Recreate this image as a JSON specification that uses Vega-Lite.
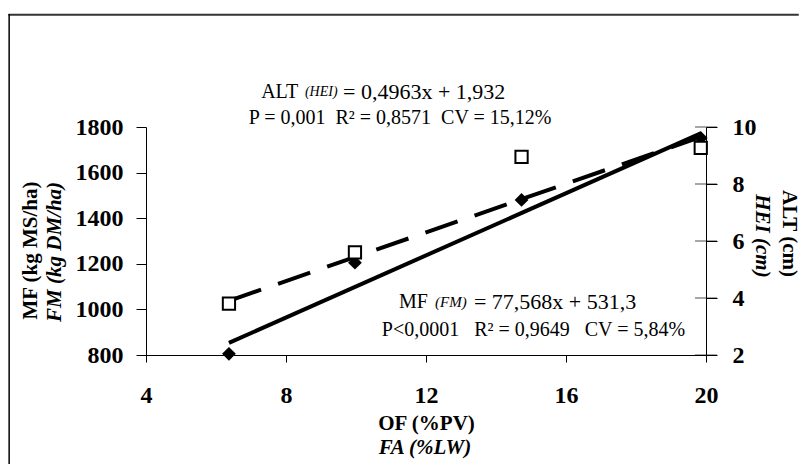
{
  "$schema": "https://vega.github.io/schema/vega-lite/v6.json",
  "width": 560,
  "height": 228,
  "autosize": {"type": "none"},
  "padding": {"left": 146, "top": 127, "right": 94, "bottom": 111},
  "background": "white",
  "data": {"values": [{"note": "annotation"}]},
  "config": {
    "view": {"stroke": null},
    "font": "Liberation Serif",
    "text": {"font": "Liberation Serif", "color": "black"},
    "axis": {
      "grid": false,
      "domainColor": "black",
      "tickColor": "black",
      "labelColor": "black",
      "titleColor": "black",
      "labelFont": "Liberation Serif",
      "titleFont": "Liberation Serif",
      "labelFontWeight": "bold",
      "titleFontWeight": "bold",
      "labelFontSize": 24,
      "titleFontSize": 21,
      "domainWidth": 1,
      "tickWidth": 1,
      "labelFlush": false,
      "labelOverlap": false
    }
  },
  "datasets": {
    "pts": [
      {"of": 6.37, "mf": 805, "alt": 3.8},
      {"of": 9.97, "mf": 1205, "alt": 5.6},
      {"of": 14.73, "mf": 1480, "alt": 8.95},
      {"of": 19.85, "mf": 1752, "alt": 9.27}
    ],
    "mfLine": [{"of": 6.37, "mf": 853}, {"of": 19.85, "mf": 1772}],
    "altLine": [{"of": 6.37, "alt": 3.9}, {"of": 19.85, "alt": 9.65}],
    "altTicks": [{"alt": 2}, {"alt": 4}, {"alt": 6}, {"alt": 8}, {"alt": 10}]
  },
  "layer": [
    {
      "layer": [
        {
          "data": {"name": "mfLine"},
          "mark": {"type": "line", "color": "black", "strokeWidth": 4},
          "encoding": {
            "x": {"field": "of", "type": "quantitative", "scale": {"domain": [4, 20], "nice": false, "zero": false},
              "axis": {"orient": "bottom", "values": [4, 8, 12, 16, 20], "format": "d", "tickSize": 7, "labelPadding": 21, "title": "OF (%PV)", "titleX": 280, "titleY": 68, "titleBaseline": "middle", "titleAlign": "center"}},
            "y": {"field": "mf", "type": "quantitative", "scale": {"domain": [800, 1800], "nice": false, "zero": false},
              "axis": {"orient": "left", "values": [800, 1000, 1200, 1400, 1600, 1800], "format": "d", "tickSize": 10, "labelPadding": 13, "title": "MF (kg MS/ha)", "titleX": -116, "titleY": 123, "titleAngle": 270, "titleBaseline": "middle", "titleAlign": "center"}}
          }
        },
        {
          "data": {"name": "pts"},
          "mark": {"type": "point", "shape": "diamond", "filled": true, "color": "black", "size": 190, "opacity": 1},
          "encoding": {
            "x": {"field": "of", "type": "quantitative", "scale": {"domain": [4, 20], "nice": false, "zero": false},
              "axis": {"orient": "bottom", "values": [4, 8, 12, 16, 20], "format": "d", "tickSize": 7, "labelPadding": 21, "title": "OF (%PV)", "titleX": 280, "titleY": 68, "titleBaseline": "middle", "titleAlign": "center"}},
            "y": {"field": "mf", "type": "quantitative", "scale": {"domain": [800, 1800], "nice": false, "zero": false},
              "axis": {"orient": "left", "values": [800, 1000, 1200, 1400, 1600, 1800], "format": "d", "tickSize": 10, "labelPadding": 13, "title": "MF (kg MS/ha)", "titleX": -116, "titleY": 123, "titleAngle": 270, "titleBaseline": "middle", "titleAlign": "center"}}
          }
        },
        {
          "mark": {"type": "rule", "color": "#333333", "strokeWidth": 2},
          "encoding": {
            "x": {"datum": 0.07}, "x2": {"datum": 22.65},
            "y": {"datum": 2292}
          }
        },
        {
          "mark": {"type": "rule", "color": "black", "strokeWidth": 1.5},
          "encoding": {
            "x": {"datum": 0.09},
            "y": {"datum": 2296}, "y2": {"datum": 322}
          }
        },
        {
          "mark": {"type": "text", "text": "ALT", "fontSize": 20, "align": "left", "baseline": "middle"},
          "encoding": {"x": {"datum": 7.29}, "y": {"datum": 1953}}
        },
        {
          "mark": {"type": "text", "text": "(HEI)", "fontSize": 14, "fontStyle": "italic", "align": "left", "baseline": "middle"},
          "encoding": {"x": {"datum": 8.54}, "y": {"datum": 1953}}
        },
        {
          "mark": {"type": "text", "text": "= 0,4963x + 1,932", "fontSize": 22, "align": "left", "baseline": "middle"},
          "encoding": {"x": {"datum": 9.63}, "y": {"datum": 1953}}
        },
        {
          "mark": {"type": "text", "text": "P = 0,001\u00a0 R² = 0,8571\u00a0 CV = 15,12%", "fontSize": 20, "align": "center", "baseline": "middle"},
          "encoding": {"x": {"datum": 11.26}, "y": {"datum": 1840}}
        },
        {
          "mark": {"type": "text", "text": "MF", "fontSize": 20, "align": "left", "baseline": "middle"},
          "encoding": {"x": {"datum": 11.23}, "y": {"datum": 1032}}
        },
        {
          "mark": {"type": "text", "text": "(FM)", "fontSize": 15, "fontStyle": "italic", "align": "left", "baseline": "middle"},
          "encoding": {"x": {"datum": 12.26}, "y": {"datum": 1032}}
        },
        {
          "mark": {"type": "text", "text": "= 77,568x + 531,3", "fontSize": 22, "align": "left", "baseline": "middle"},
          "encoding": {"x": {"datum": 13.37}, "y": {"datum": 1032}}
        },
        {
          "mark": {"type": "text", "text": "P<0,0001\u00a0\u00a0 R² = 0,9649\u00a0\u00a0 CV = 5,84%", "fontSize": 20, "align": "center", "baseline": "middle"},
          "encoding": {"x": {"datum": 15.07}, "y": {"datum": 910}}
        },
        {
          "mark": {"type": "text", "text": "FM (kg DM/ha)", "fontSize": 21, "fontWeight": "bold", "fontStyle": "italic", "angle": 270, "align": "center", "baseline": "middle"},
          "encoding": {"x": {"datum": 1.4}, "y": {"datum": 1252}}
        },
        {
          "mark": {"type": "text", "text": "HEI (cm)", "fontSize": 21, "fontWeight": "bold", "fontStyle": "italic", "angle": 90, "align": "center", "baseline": "middle"},
          "encoding": {"x": {"datum": 21.6}, "y": {"datum": 1322}}
        },
        {
          "mark": {"type": "text", "text": "FA (%LW)", "fontSize": 21, "fontWeight": "bold", "fontStyle": "italic", "align": "center", "baseline": "middle"},
          "encoding": {"x": {"datum": 11.97}, "y": {"datum": 392}}
        }
      ]
    },
    {
      "layer": [
        {
          "data": {"name": "altLine"},
          "mark": {"type": "line", "color": "black", "strokeWidth": 4, "strokeDash": [34, 18]},
          "encoding": {
            "x": {"field": "of", "type": "quantitative", "scale": {"domain": [4, 20], "nice": false, "zero": false},
              "axis": {"orient": "bottom", "values": [4, 8, 12, 16, 20], "format": "d", "tickSize": 7, "labelPadding": 21, "title": "OF (%PV)", "titleX": 280, "titleY": 68, "titleBaseline": "middle", "titleAlign": "center"}},
            "y": {"field": "alt", "type": "quantitative", "scale": {"domain": [2, 10], "nice": false, "zero": false},
              "axis": {"orient": "right", "values": [2, 4, 6, 8, 10], "format": "d", "tickSize": 11, "labelPadding": 15, "title": "ALT (cm)", "titleX": 82, "titleY": 106, "titleAngle": 90, "titleBaseline": "middle", "titleAlign": "center"}}
          }
        },
        {
          "data": {"name": "altTicks"},
          "mark": {"type": "tick", "orient": "horizontal", "color": "black", "size": 22, "thickness": 1},
          "encoding": {
            "x": {"datum": 20},
            "y": {"field": "alt", "type": "quantitative", "scale": {"domain": [2, 10], "nice": false, "zero": false},
              "axis": {"orient": "right", "values": [2, 4, 6, 8, 10], "format": "d", "tickSize": 11, "labelPadding": 15, "title": "ALT (cm)", "titleX": 82, "titleY": 106, "titleAngle": 90, "titleBaseline": "middle", "titleAlign": "center"}}
          }
        },
        {
          "data": {"name": "pts"},
          "mark": {"type": "point", "shape": "square", "filled": true, "fill": "white", "stroke": "black", "strokeWidth": 2, "size": 150, "opacity": 1},
          "encoding": {
            "x": {"field": "of", "type": "quantitative", "scale": {"domain": [4, 20], "nice": false, "zero": false},
              "axis": {"orient": "bottom", "values": [4, 8, 12, 16, 20], "format": "d", "tickSize": 7, "labelPadding": 21, "title": "OF (%PV)", "titleX": 280, "titleY": 68, "titleBaseline": "middle", "titleAlign": "center"}},
            "y": {"field": "alt", "type": "quantitative", "scale": {"domain": [2, 10], "nice": false, "zero": false},
              "axis": {"orient": "right", "values": [2, 4, 6, 8, 10], "format": "d", "tickSize": 11, "labelPadding": 15, "title": "ALT (cm)", "titleX": 82, "titleY": 106, "titleAngle": 90, "titleBaseline": "middle", "titleAlign": "center"}}
          }
        }
      ]
    }
  ],
  "resolve": {"scale": {"y": "independent"}}
}
